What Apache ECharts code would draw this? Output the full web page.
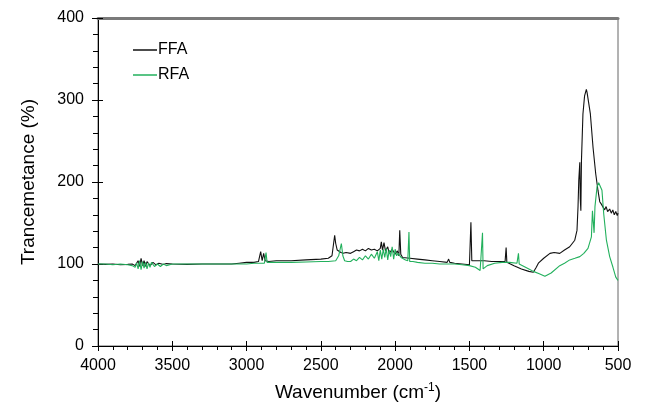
<!DOCTYPE html>
<html>
<head>
<meta charset="utf-8">
<script src="https://cdn.jsdelivr.net/npm/echarts@6/dist/echarts.min.js"></script>
<style>
    html, body { margin: 0; padding: 0; background: #fff; }
    #chart1 { width: 646px; height: 409px; }
</style>
</head>
<body>
<div id="chart1"></div>
<script>
// tick values
var xTicks = [4000, 3500, 3000, 2500, 2000, 1500, 1000, 500];
var yTicks = [0, 100, 200, 300, 400];
var seriesNames = ["FFA", "RFA"];

// [wavenumber, transmittance]
var ffa = [
    [4000, 100], [3950, 99.5], [3900, 100], [3850, 99], [3800, 99.5], [3770, 100], [3750, 98],
    [3730, 104], [3720, 97], [3710, 107], [3700, 98], [3690, 104], [3680, 97], [3670, 103],
    [3650, 98], [3630, 102], [3610, 99], [3590, 101], [3560, 99.5], [3540, 100.5], [3500, 100],
    [3400, 99.5], [3300, 100], [3200, 100], [3100, 100], [3050, 101], [3000, 102], [2950, 102],
    [2920, 103], [2905, 115], [2895, 104], [2885, 113], [2875, 104], [2850, 103], [2800, 104],
    [2700, 104], [2600, 105], [2500, 106], [2450, 107], [2425, 110], [2407, 135], [2400, 125],
    [2390, 117], [2380, 119], [2365, 114], [2350, 113], [2330, 114], [2300, 113], [2280, 115],
    [2260, 117], [2240, 116], [2220, 118], [2200, 116], [2180, 119], [2160, 117], [2140, 118],
    [2120, 116], [2100, 119], [2093, 127], [2085, 117], [2075, 126], [2065, 116], [2050, 121],
    [2040, 113], [2020, 118], [2000, 112], [1985, 116], [1975, 110], [1969, 141], [1962, 112],
    [1950, 108], [1900, 107], [1850, 106], [1800, 105], [1750, 104], [1700, 103], [1650, 102],
    [1640, 106], [1632, 102], [1600, 101], [1550, 100], [1500, 99], [1490, 151], [1484, 104],
    [1450, 104], [1400, 104], [1350, 103], [1300, 103], [1260, 103], [1253, 120], [1248, 102],
    [1200, 98], [1150, 94], [1100, 91], [1070, 90], [1050, 96], [1036, 101], [1000, 107],
    [958, 113], [930, 114], [892, 113], [860, 117], [825, 121], [791, 129], [776, 141],
    [769, 170], [764, 202], [757, 224], [754, 180], [750, 165], [746, 226], [736, 283],
    [725, 305], [713, 313], [708, 309], [702, 307], [686, 283], [668, 242], [650, 210],
    [635, 190], [623, 176], [612, 173], [601, 171], [590, 166], [580, 170], [570, 164],
    [556, 167], [545, 162], [535, 166], [525, 160], [515, 164], [505, 159], [500, 162]
];
var rfa = [
    [4000, 100], [3950, 100], [3900, 99], [3850, 100], [3800, 99], [3770, 98], [3750, 96],
    [3740, 101], [3730, 94], [3720, 104], [3710, 93], [3700, 103], [3690, 95], [3680, 102],
    [3670, 94], [3660, 101], [3650, 96], [3640, 102], [3620, 97], [3600, 100], [3580, 97],
    [3560, 100], [3540, 98], [3500, 100], [3400, 100], [3300, 100], [3200, 100], [3100, 100],
    [3000, 100], [2950, 101], [2900, 101], [2880, 101], [2869, 114], [2862, 102], [2800, 102],
    [2700, 102], [2600, 102.5], [2500, 103], [2450, 103], [2400, 104], [2380, 110], [2362, 125],
    [2352, 110], [2340, 104], [2320, 103], [2300, 103], [2280, 106], [2260, 104], [2240, 108],
    [2220, 105], [2200, 110], [2180, 106], [2160, 112], [2140, 107], [2120, 115], [2110, 104],
    [2100, 117], [2090, 106], [2080, 118], [2070, 108], [2060, 119], [2050, 105], [2040, 117],
    [2030, 109], [2020, 121], [2010, 106], [2000, 118], [1990, 110], [1980, 113], [1960, 108],
    [1950, 107], [1930, 105], [1915, 104], [1907, 139], [1902, 103], [1880, 103], [1850, 102],
    [1800, 101], [1750, 101], [1700, 100], [1650, 100], [1600, 100], [1550, 99], [1500, 98],
    [1460, 96], [1428, 92], [1415, 93], [1412, 138], [1408, 94], [1380, 98], [1330, 101],
    [1280, 102], [1230, 102], [1180, 101], [1170, 113], [1165, 100], [1100, 94], [1070, 91],
    [1030, 88], [992, 85], [950, 89], [892, 98], [860, 101], [825, 105], [790, 107],
    [757, 109], [730, 113], [702, 119], [679, 133], [672, 165], [661, 138], [655, 170],
    [641, 194], [630, 199], [623, 198], [608, 190], [596, 161], [578, 129], [556, 109],
    [534, 96], [515, 84], [500, 80]
];

var chart = {
    init: function () {
        this.mychart = echarts.init(document.getElementById("chart1"));
        this.load();
    },
    load: function () {
        var font = "Liberation Sans";
        var xAxisBase = {
            type: 'value',
            inverse: true,
            min: xTicks[xTicks.length - 1],
            max: xTicks[0],
            interval: 500,
            splitLine: { show: false }
        };
        var yAxisBase = {
            type: 'value',
            min: yTicks[0],
            max: yTicks[yTicks.length - 1],
            interval: 100,
            splitLine: { show: false }
        };
        var option = {
            animation: false,
            backgroundColor: '#fff',
            grid: {
                left: 98,
                right: 28,
                top: 18,
                bottom: 63,
                show: true,
                borderColor: '#666',
                borderWidth: 1
            },
            legend: {
                orient: 'vertical',
                left: 128,
                top: 37,
                itemGap: 9,
                itemWidth: 24,
                itemHeight: 1.5,
                icon: 'rect',
                data: seriesNames,
                textStyle: { fontFamily: font, fontSize: 16, color: '#000', padding: [0, 0, 0, -4] }
            },
            xAxis: [
                $.extend({}, xAxisBase, {
                    position: 'bottom',
                    name: '{a|Wavenumber (cm}{b|-1}{a|)}',
                    nameLocation: 'middle',
                    nameGap: 36,
                    nameTextStyle: {
                        rich: {
                            a: { fontFamily: font, fontSize: 19, color: '#000' },
                            b: { fontFamily: font, fontSize: 12, color: '#000', padding: [0, 0, 9, 0] }
                        }
                    },
                    axisLine: { lineStyle: { color: '#000', width: 1 } },
                    axisTick: { inside: false, length: 5, lineStyle: { color: '#000' } },
                    minorTick: { show: true, splitNumber: 5, length: 4, lineStyle: { color: '#000' } },
                    axisLabel: {
                        fontFamily: font, fontSize: 16, color: '#000', margin: 12,
                        formatter: function (v) { return String(v); }
                    }
                }),
                $.extend({}, xAxisBase, {
                    position: 'bottom',
                    axisLine: { show: false },
                    axisTick: { inside: true, length: 5, lineStyle: { color: '#000' } },
                    axisLabel: { show: false }
                }),
                $.extend({}, xAxisBase, {
                    position: 'top',
                    axisLine: { lineStyle: { color: '#7a7a7a', width: 3 } },
                    axisTick: { show: false },
                    axisLabel: { show: false }
                })
            ],
            yAxis: [
                $.extend({}, yAxisBase, {
                    position: 'left',
                    name: 'Trancemetance (%)',
                    nameLocation: 'middle',
                    nameGap: 60,
                    nameTextStyle: { fontFamily: font, fontSize: 19, color: '#000' },
                    axisLine: { show: true, lineStyle: { color: '#000', width: 1 } },
                    axisTick: { inside: false, length: 6, lineStyle: { color: '#000' } },
                    minorTick: { show: true, splitNumber: 5, length: 5, lineStyle: { color: '#000' } },
                    axisLabel: { fontFamily: font, fontSize: 16, color: '#000', margin: 14 }
                }),
                $.extend({}, yAxisBase, {
                    position: 'left',
                    axisLine: { show: false },
                    axisTick: { inside: true, length: 5, lineStyle: { color: '#000' } },
                    axisLabel: { show: false }
                })
            ],
            series: [
                {
                    name: seriesNames[0],
                    type: 'line',
                    data: ffa,
                    showSymbol: false,
                    symbol: 'none',
                    color: '#111',
                    lineStyle: { width: 1.1, color: '#111' },
                    z: 3
                },
                {
                    name: seriesNames[1],
                    type: 'line',
                    data: rfa,
                    showSymbol: false,
                    symbol: 'none',
                    color: '#22b05c',
                    lineStyle: { width: 1.1, color: '#22b05c' },
                    z: 4
                }
            ]
        };
        this.mychart.setOption(option);
    }
};

// tiny stand-in for jQuery extend
var $ = { extend: function (t) {
    for (var i = 1; i < arguments.length; i++) {
        for (var k in arguments[i]) { t[k] = arguments[i][k]; }
    }
    return t;
} };

chart.init();
</script>
</body>
</html>
